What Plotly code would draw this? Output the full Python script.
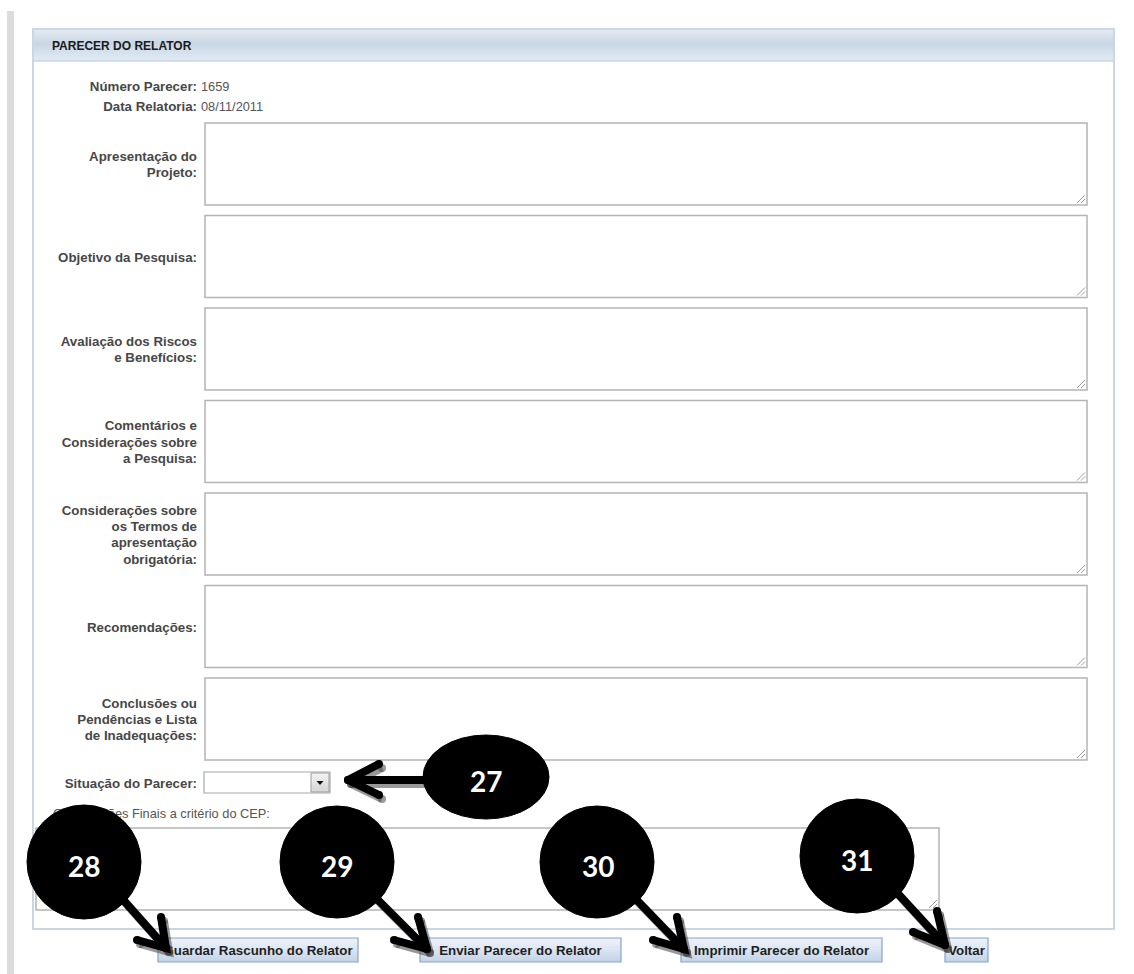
import plotly.graph_objects as go

# ---------------- content ----------------
header_title = "PARECER DO RELATOR"
info_labels = ["Número Parecer:", "Data Relatoria:"]
info_values = ["1659", "08/11/2011"]
field_labels = [
    ["Apresentação do", "Projeto:"],
    ["Objetivo da Pesquisa:"],
    ["Avaliação dos Riscos", "e Benefícios:"],
    ["Comentários e", "Considerações sobre", "a Pesquisa:"],
    ["Considerações sobre", "os Termos de", "apresentação", "obrigatória:"],
    ["Recomendações:"],
    ["Conclusões ou", "Pendências e Lista", "de Inadequações:"],
]
status_label = "Situação do Parecer:"
final_label = "Observações Finais a critério do CEP:"
button_labels = ["Guardar Rascunho do Relator", "Enviar Parecer do Relator",
                 "Imprimir Parecer do Relator", "Voltar"]
callout_numbers = ["27", "28", "29", "30", "31"]

# ---------------- geometry (pixels) ----------------
W, H = 1134, 974
FONT = "Arial, Liberation Sans, sans-serif"
BOLD_SIZE = 13.3
TY = 1.8  # vertical text nudge

shapes = []


def rect(x0, y0, x1, y1, fill=None, line=None, lw=1.0, layer="below"):
    shapes.append(dict(type="rect", xref="x", yref="y", x0=x0, y0=y0, x1=x1, y1=y1,
                       fillcolor=fill if fill else "rgba(0,0,0,0)",
                       line=dict(color=line if line else "rgba(0,0,0,0)",
                                 width=lw if line else 0),
                       layer=layer))


def seg(x0, y0, x1, y1, color, lw=1.0, layer="below"):
    shapes.append(dict(type="line", xref="x", yref="y", x0=x0, y0=y0, x1=x1, y1=y1,
                       line=dict(color=color, width=lw), layer=layer))


def hex2rgb(h):
    h = h.lstrip("#")
    return tuple(int(h[i:i + 2], 16) for i in (0, 2, 4))


def lerp(stops, t):
    for (t0, c0), (t1, c1) in zip(stops[:-1], stops[1:]):
        if t0 <= t <= t1:
            f = (t - t0) / (t1 - t0) if t1 > t0 else 0
            a, b = hex2rgb(c0), hex2rgb(c1)
            return "rgb(%d,%d,%d)" % tuple(round(a[i] + (b[i] - a[i]) * f) for i in range(3))
    return stops[-1][1]


def vgradient(x0, y0, x1, y1, stops, n):
    h = (y1 - y0) / n
    for i in range(n):
        t = (i + 0.5) / n
        rect(x0, y0 + h * i, x1, min(y1, y0 + h * (i + 1) + 0.6), fill=lerp(stops, t))


def grip(x1, y1):
    seg(x1 - 10, y1 - 2, x1 - 2, y1 - 10, "#9a9a9a", 1)
    seg(x1 - 6, y1 - 2, x1 - 2, y1 - 6, "#9a9a9a", 1)


# page decorations
rect(7, 11, 14, H, fill="#dcdcdc")

# panel
PX0, PX1, PY0, PY1 = 33, 1114, 29, 929
rect(PX0, PY0, PX1, PY1, fill="white", line="#c6d4e1", lw=1.5)
vgradient(PX0, PY0, PX1, 61, [(0, "#e6ebf2"), (0.45, "#c9d7e4"), (1, "#e1ebf4")], 32)
seg(PX0, 61, PX1, 61, "#b5c6d6", 1.2)
rect(PX0, PY0, PX1, PY1, line="#c6d4e1", lw=1.5)

# text areas
TX0, TX1 = 205, 1087
BOX_TOP, BOX_PITCH, BOX_H = 123, 92.5, 82
box_centers = []
for i in range(len(field_labels)):
    top = BOX_TOP + BOX_PITCH * i
    rect(TX0, top, TX1, top + BOX_H, fill="white", line="#b4b4b4", lw=1.5)
    grip(TX1, top + BOX_H)
    box_centers.append(top + BOX_H / 2)

# select box
rect(204, 772, 330, 793, fill="white", line="#a8a8a8", lw=1.2)
vgradient(311, 773, 329, 792, [(0, "#f4f4f4"), (1, "#d4d4d4")], 10)
rect(311, 773, 329, 792, line="#9c9c9c", lw=1)
shapes.append(dict(type="path", xref="x", yref="y", path="M 316.5 781 L 323.5 781 L 320 785 Z",
                   fillcolor="#111", line=dict(width=0), layer="below"))

# final text area
rect(36, 828, 939, 910, fill="white", line="#b4b4b4", lw=1.5)
grip(939, 910)

# buttons
BTN_Y0, BTN_Y1 = 938, 962
button_x = [(158, 358), (420, 621), (681, 882), (945, 988)]
for (bx0, bx1) in button_x:
    vgradient(bx0, BTN_Y0, bx1, BTN_Y1, [(0, "#eef3fa"), (0.5, "#dbe5f1"), (1, "#c2d2e6")], 12)
    rect(bx0, BTN_Y0, bx1, BTN_Y1, line="#8aa4c4", lw=1.2)

# ---------------- traces (text) ----------------
fig = go.Figure()

fig.add_trace(go.Scatter(x=[52], y=[45.5 + TY], mode="text", text=["<b>%s</b>" % header_title],
                         textposition="middle right",
                         textfont=dict(family=FONT, size=12, color="#1a1a1a"),
                         hoverinfo="skip"))

lab_x, lab_y, lab_t = [], [], []
for i, lbl in enumerate(info_labels):
    lab_x.append(197); lab_y.append(86 + 20 * i + TY); lab_t.append("<b>%s</b>" % lbl)
for c, lines in zip(box_centers, field_labels):
    n = len(lines)
    for j, ln in enumerate(lines):
        lab_x.append(197)
        lab_y.append(c + (j - (n - 1) / 2) * 16.3 + TY)
        lab_t.append("<b>%s</b>" % ln)
lab_x.append(197); lab_y.append(783 + TY); lab_t.append("<b>%s</b>" % status_label)
fig.add_trace(go.Scatter(x=lab_x, y=lab_y, mode="text", text=lab_t, textposition="middle left",
                         textfont=dict(family=FONT, size=BOLD_SIZE, color="#474747"),
                         hoverinfo="skip"))

fig.add_trace(go.Scatter(x=[201, 201, 53], y=[86 + TY, 106 + TY, 813 + TY], mode="text",
                         text=info_values + [final_label], textposition="middle right",
                         textfont=dict(family=FONT, size=12.8, color="#555555"),
                         hoverinfo="skip"))

fig.add_trace(go.Scatter(x=[(a + b) / 2 for a, b in button_x], y=[950.5 + 1.2] * 4, mode="text",
                         text=["<b>%s</b>" % b for b in button_labels], textposition="middle center",
                         textfont=dict(family=FONT, size=BOLD_SIZE, color="#1f1f1f"),
                         hoverinfo="skip"))

# ---------------- callout arrows ----------------
# each arrow: shaft start, tip, arm1, arm2
arrows = [
    ((425, 780), (348, 780), (379, 764), (379, 795)),
    ((118, 894), (166, 948), (161, 917), (137, 940)),
    ((372, 894), (427, 949), (418, 917), (394, 940)),
    ((630, 893), (684, 949), (677, 917), (653, 940)),
    ((890, 885), (945, 945), (937, 911), (913, 932)),
]


def arrow_xy(dx=0, dy=0):
    xs, ys = [], []
    for s, t, a1, a2 in arrows:
        for p in (s, t):
            xs.append(p[0] + dx); ys.append(p[1] + dy)
        xs.append(None); ys.append(None)
        for p in (a1, t, a2):
            xs.append(p[0] + dx); ys.append(p[1] + dy)
        xs.append(None); ys.append(None)
    return xs, ys


sx, sy = arrow_xy(3, 4)
fig.add_trace(go.Scatter(x=sx, y=sy, mode="lines+markers",
                         line=dict(color="rgba(70,70,70,0.55)", width=8),
                         marker=dict(size=8, color="rgba(70,70,70,0.55)"),
                         hoverinfo="skip"))
ax, ay = arrow_xy()
fig.add_trace(go.Scatter(x=ax, y=ay, mode="lines+markers",
                         line=dict(color="black", width=8),
                         marker=dict(size=8, color="black"),
                         hoverinfo="skip"))

# ---------------- callout circles ----------------
callout_shapes = [  # (cx, cy, rx, ry)
    (486, 777, 63, 42),
    (84, 862, 57, 57),
    (337, 862, 57, 56),
    (597, 862, 57, 56),
    (857, 856, 57, 57),
]
for (cx, cy, rx, ry) in callout_shapes:
    shapes.append(dict(type="circle", xref="x", yref="y", x0=cx - rx, x1=cx + rx,
                       y0=cy - ry, y1=cy + ry, fillcolor="black",
                       line=dict(color="black", width=1), layer="above"))

label_pos = [(486, 781), (84, 866), (337, 866), (598, 866), (857, 860)]
annotations = []
for num, (lx, ly) in zip(callout_numbers, label_pos):
    annotations.append(dict(x=lx, y=ly, xref="x", yref="y", text="<b>%s</b>" % num,
                            showarrow=False, xanchor="center", yanchor="middle",
                            font=dict(family="Lato, Open Sans, sans-serif", size=28, color="white")))

fig.update_layout(
    width=W, height=H, autosize=False,
    margin=dict(l=0, r=0, t=0, b=0, pad=0),
    paper_bgcolor="white", plot_bgcolor="white",
    showlegend=False,
    shapes=shapes, annotations=annotations,
    xaxis=dict(range=[0, W], visible=False, fixedrange=True),
    yaxis=dict(range=[H, 0], visible=False, fixedrange=True),
)

fig.write_html("out.html", config={"displayModeBar": False},
               post_script="document.body.style.margin='0';document.body.style.overflow='hidden';")
